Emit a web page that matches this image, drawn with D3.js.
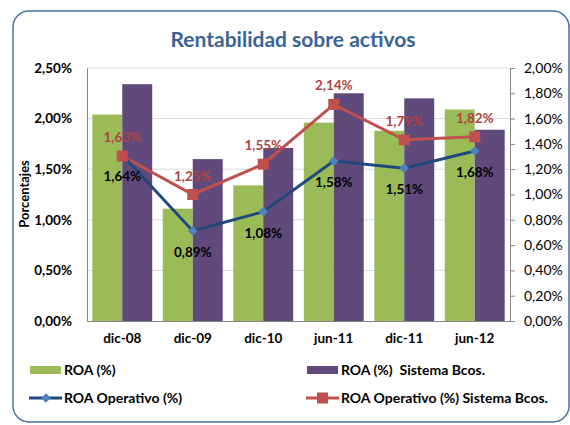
<!DOCTYPE html>
<html><head><meta charset="utf-8">
<script src="https://cdn.jsdelivr.net/npm/d3@7"></script>
<style>body{margin:0;background:#fff}svg{display:block;font-family:Lato,"Open Sans",sans-serif}</style>
</head><body>
<script>
const categories = ["dic-08","dic-09","dic-10","jun-11","dic-11","jun-12"];
const roa = [2.04,1.11,1.34,1.96,1.88,2.09];
const roaSistema = [2.34,1.60,1.71,2.25,2.20,1.89];
const roaOperativo = [1.64,0.89,1.08,1.58,1.51,1.68];
const roaOperativoSistema = [1.63,1.25,1.55,2.14,1.79,1.82];
const leftTicks = [0,0.5,1,1.5,2,2.5];
const rightTicks = [0,0.2,0.4,0.6,0.8,1.0,1.2,1.4,1.6,1.8,2.0];
const seriesNames = ["ROA (%)","ROA (%)  Sistema Bcos.","ROA Operativo (%)","ROA Operativo (%) Sistema Bcos."];
const fmt = v => v.toFixed(2).replace(".", ",") + "%";

const W = 570, H = 425;
const svg = d3.select("body").append("svg").attr("width", W).attr("height", H);
svg.append("rect").attr("x",13).attr("y",11).attr("width",556).attr("height",411)
  .attr("rx",16).attr("fill","#fff").attr("stroke","#4a6fa5").attr("stroke-width",1.5);

const m = {l:87, r:510, t:68, b:321};
const x = d3.scaleBand().domain(categories).range([m.l, m.r]).paddingInner(0.15).paddingOuter(0.075);
const xc = d3.scaleBand().domain(categories).range([m.l, m.r]);
const y = d3.scaleLinear().domain([0,2.5]).range([m.b, m.t]);
const y2 = d3.scaleLinear().domain([0,2.0]).range([m.b, m.t]);
const xs = d3.scaleBand().domain([0,1]).range([0, x.bandwidth()]);

// gridlines
svg.append("g").selectAll("line").data(leftTicks.slice(1)).join("line")
  .attr("x1",m.l).attr("x2",m.r).attr("y1",d=>y(d)).attr("y2",d=>y(d))
  .attr("stroke","#d9d9d9").attr("stroke-width",1);

// bars
const colors = ["#9bbb59","#604a7b"];
[roa, roaSistema].forEach((arr, si) => {
  svg.append("g").selectAll("rect").data(arr).join("rect")
    .attr("x",(d,i)=>x(categories[i]) + xs(si))
    .attr("width", xs.bandwidth())
    .attr("y", d=>y(d)).attr("height", d=>y(0)-y(d))
    .attr("fill", colors[si]);
});

// axes
const yAxis = svg.append("g").attr("transform",`translate(${m.l},0)`)
  .call(d3.axisLeft(y).tickValues(leftTicks).tickFormat(fmt).tickSize(0).tickPadding(15));
yAxis.select(".domain").attr("stroke","#868686");
yAxis.selectAll("text").attr("font-size",13.5).attr("font-weight","bold").attr("fill","#000").attr("font-family","Lato");

const y2Axis = svg.append("g").attr("transform",`translate(${m.r},0)`)
  .call(d3.axisRight(y2).tickValues(rightTicks).tickFormat(fmt).tickSize(5).tickPadding(9).tickSizeOuter(5));
y2Axis.selectAll("path,line").attr("stroke","#868686");
y2Axis.selectAll("text").attr("font-size",14).attr("fill","#000").attr("font-family","Lato");

const xAxis = svg.append("g").attr("transform",`translate(0,${m.b})`)
  .call(d3.axisBottom(xc).tickSize(0).tickPadding(12));
xAxis.select(".domain").attr("stroke","#868686");
xAxis.selectAll("text").attr("font-size",13.5).attr("font-weight","bold").attr("fill","#000").attr("font-family","Lato");

// lines
const cx = c => xc(c) + xc.bandwidth()/2;
const line = d3.line().x((d,i)=>cx(categories[i])).y(d=>y(d));
svg.append("path").datum(roaOperativoSistema).attr("d",line).attr("fill","none")
  .attr("stroke","#c0504d").attr("stroke-width",3);
svg.append("path").datum(roaOperativo).attr("d",line).attr("fill","none")
  .attr("stroke","#1f497d").attr("stroke-width",3);

svg.append("g").selectAll("path").data(roaOperativo).join("path")
  .attr("d", d3.symbol(d3.symbolDiamond2, 60))
  .attr("transform",(d,i)=>`translate(${cx(categories[i])},${y(d)})`)
  .attr("fill","#4f81bd");
svg.append("g").selectAll("rect").data(roaOperativoSistema).join("rect")
  .attr("x",(d,i)=>cx(categories[i])-5.5).attr("y",d=>y(d)-5.5)
  .attr("width",11).attr("height",11).attr("fill","#c0504d");

// labels
svg.append("g").selectAll("text").data(roaOperativoSistema).join("text")
  .attr("x",(d,i)=>cx(categories[i])).attr("y",d=>y(d)-14)
  .attr("text-anchor","middle").attr("font-size",13.5).attr("font-weight","bold")
  .attr("fill","#b0423f").text(fmt);
svg.append("g").selectAll("text").data(roaOperativo).join("text")
  .attr("x",(d,i)=>cx(categories[i])).attr("y",d=>y(d)+26)
  .attr("text-anchor","middle").attr("font-size",13.5).attr("font-weight","bold")
  .attr("fill","#000").text(fmt);

// title
svg.append("text").attr("x",293).attr("y",47).attr("text-anchor","middle")
  .attr("font-size",21).attr("font-weight","bold").attr("fill","#3a6496")
  .text("Rentabilidad sobre activos");
svg.append("text").attr("transform","translate(29,194) rotate(-90)").attr("text-anchor","middle")
  .attr("font-size",13).attr("font-weight","bold").attr("fill","#000").text("Porcentajes");

// legend
const lg = svg.append("g").attr("font-size",14).attr("font-weight","bold").attr("fill","#000");
const legendPos = [[30,370],[307,370],[30,398],[307,398]];
[0,1].forEach(i=>{
  lg.append("rect").attr("x",legendPos[i][0]).attr("y",legendPos[i][1]-4).attr("width",31).attr("height",8).attr("fill",colors[i]);
});
lg.append("line").attr("x1",29).attr("x2",62).attr("y1",398).attr("y2",398).attr("stroke","#1f497d").attr("stroke-width",3);
lg.append("path").attr("d",d3.symbol(d3.symbolDiamond2,60)).attr("transform","translate(46,398)").attr("fill","#4f81bd");
lg.append("line").attr("x1",306).attr("x2",339).attr("y1",398).attr("y2",398).attr("stroke","#c0504d").attr("stroke-width",3);
lg.append("rect").attr("x",317).attr("y",392.5).attr("width",11).attr("height",11).attr("fill","#c0504d");
seriesNames.forEach((n,i)=>{
  lg.append("text").attr("x",legendPos[i][0]+34).attr("y",legendPos[i][1]+5).attr("xml:space","preserve").style("white-space","pre").text(n);
});
</script>
</body></html>
